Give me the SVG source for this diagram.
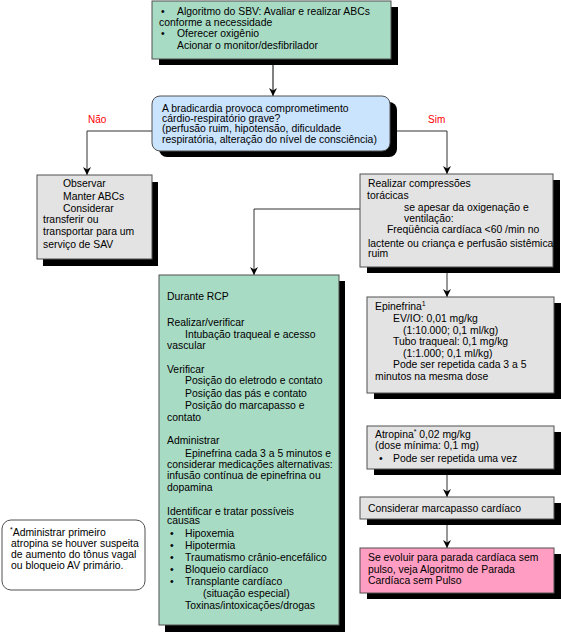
<svg xmlns="http://www.w3.org/2000/svg" width="561" height="633" viewBox="0 0 561 633">
<defs>
<style>
text{font-family:"Liberation Sans",Arial,sans-serif;font-size:10.4px;fill:#000}
.lbl{fill:#FF0000;font-size:10px}
.sup{font-size:7px}
.box{stroke:#505050;stroke-width:1}
.sh{fill:#000}
.green{fill:#A8DBC4}
.blue{fill:#CBE4FE}
.gray{fill:#E3E3E3}
.pink{fill:#FF9EC2}
.conn{fill:none;stroke:#333;stroke-width:1}
.conn2{fill:none;stroke:#808080;stroke-width:2}
</style>
<marker id="arr" viewBox="0 0 10 10" refX="10" refY="5" markerWidth="8" markerHeight="8" markerUnits="userSpaceOnUse" orient="auto">
<path d="M0,0 L10,5 L0,10 L3,5 z" fill="#000"/>
</marker>
</defs>
<rect width="561" height="633" fill="#fff"/>

<g id="connectors">
<line class="conn2" x1="273" y1="59" x2="273" y2="96" marker-end="url(#arr)"/>
<polyline class="conn" points="152,131 87,131 87,175" marker-end="url(#arr)"/>
<polyline class="conn" points="390,131 447,131 447,174" marker-end="url(#arr)"/>
<polyline class="conn" points="360,209 254,209 254,275" marker-end="url(#arr)"/>
<line class="conn" x1="447" y1="267" x2="447" y2="297" marker-end="url(#arr)"/>
<line class="conn" x1="447" y1="469" x2="447" y2="497" marker-end="url(#arr)"/>
<line class="conn" x1="447" y1="519" x2="447" y2="548" marker-end="url(#arr)"/>
<text class="lbl" x="88" y="122.7">Não</text>
<text class="lbl" x="428" y="122.7">Sim</text>
</g>

<g id="n-sbv">
<rect class="sh" x="159" y="7" width="239" height="58"/>
<rect class="box green" x="152" y="1" width="239" height="58"/>
<text x="161" y="14.5">•</text>
<text x="177" y="14.5">Algoritmo do SBV: Avaliar e realizar ABCs</text>
<text x="159" y="26">conforme a necessidade</text>
<text x="161" y="37">•</text>
<text x="177" y="37">Oferecer oxigênio</text>
<text x="177" y="49">Acionar o monitor/desfibrilador</text>
</g>

<g id="n-question">
<rect class="sh" x="159" y="102" width="238" height="55" rx="8"/>
<rect class="box blue" x="152" y="96" width="238" height="55" rx="8"/>
<text x="162" y="111.5">A bradicardia provoca comprometimento</text>
<text x="162" y="122">cárdio-respiratório grave?</text>
<text x="162" y="132">(perfusão ruim, hipotensão, dificuldade</text>
<text x="162" y="143">respiratória, alteração do nível de consciência)</text>
</g>

<g id="n-observar">
<rect class="sh" x="43" y="182" width="115" height="84"/>
<rect class="box gray" x="37" y="175" width="115" height="84"/>
<text x="63" y="187.3">Observar</text>
<text x="63" y="200">Manter ABCs</text>
<text x="63" y="211.7">Considerar</text>
<text x="43" y="223.3">transferir ou</text>
<text x="43" y="235">transportar para um</text>
<text x="43" y="247.7">serviço de SAV</text>
</g>

<g id="n-compressoes">
<rect class="sh" x="367" y="180" width="193" height="93"/>
<rect class="box gray" x="360" y="174" width="193" height="93"/>
<text x="368" y="186.7">Realizar compressões</text>
<text x="367" y="199">torácicas</text>
<text x="404" y="211">se apesar da oxigenação e</text>
<text x="404" y="221.7">ventilação:</text>
<text x="387" y="232.7">Freqüência cardíaca &lt;60 /min no</text>
<text x="368" y="246.7">lactente ou criança e perfusão sistêmica</text>
<text x="368" y="257.3">ruim</text>
</g>

<g id="n-rcp">
<rect class="sh" x="165" y="281" width="180" height="351"/>
<rect class="box green" x="159" y="275" width="180" height="350"/>
<text x="167" y="300">Durante RCP</text>
<text x="167" y="326">Realizar/verificar</text>
<text x="185" y="337.7">Intubação traqueal e acesso</text>
<text x="167" y="349.3">vascular</text>
<text x="167" y="372.7">Verificar</text>
<text x="185" y="384.3">Posição do eletrodo e contato</text>
<text x="185" y="396.7">Posição das pás e contato</text>
<text x="185" y="408.7">Posição do marcapasso e</text>
<text x="167" y="420.7">contato</text>
<text x="167" y="444.2">Administrar</text>
<text x="185" y="457.3">Epinefrina cada 3 a 5 minutos e</text>
<text x="167" y="467.7">considerar medicações alternativas:</text>
<text x="167" y="479.3">infusão contínua de epinefrina ou</text>
<text x="167" y="490.7">dopamina</text>
<text x="167" y="514.5">Identificar e tratar possíveis</text>
<text x="167" y="524">causas</text>
<text x="170" y="536.7">•</text>
<text x="185" y="536.7">Hipoxemia</text>
<text x="170" y="549.3">•</text>
<text x="185" y="549.3">Hipotermia</text>
<text x="170" y="561">•</text>
<text x="185" y="561">Traumatismo crânio-encefálico</text>
<text x="170" y="573.3">•</text>
<text x="185" y="573.3">Bloqueio cardíaco</text>
<text x="170" y="585.3">•</text>
<text x="185" y="585.3">Transplante cardíaco</text>
<text x="203" y="596.7">(situação especial)</text>
<text x="185" y="608.7">Toxinas/intoxicações/drogas</text>
</g>

<g id="n-epinefrina">
<rect class="sh" x="374" y="303" width="187" height="96"/>
<rect class="box gray" x="367" y="297" width="187" height="96"/>
<text x="375" y="310">Epinefrina<tspan class="sup" dy="-4">1</tspan></text>
<text x="393" y="322.3">EV/IO: 0,01 mg/kg</text>
<text x="403" y="334">(1:10.000; 0,1 ml/kg)</text>
<text x="393" y="345">Tubo traqueal: 0,1 mg/kg</text>
<text x="403" y="356.7">(1:1.000; 0,1 ml/kg)</text>
<text x="393" y="368.3">Pode ser repetida cada 3 a 5</text>
<text x="375" y="380">minutos na mesma dose</text>
</g>

<g id="n-atropina">
<rect class="sh" x="374" y="432" width="187" height="43"/>
<rect class="box gray" x="367" y="426" width="187" height="43"/>
<text x="375" y="438.3">Atropina<tspan class="sup" dy="-4">*</tspan><tspan dy="4"> 0,02 mg/kg</tspan></text>
<text x="375" y="449.3">(dose mínima: 0,1 mg)</text>
<text x="379" y="461.7">•</text>
<text x="393" y="461.7">Pode ser repetida uma vez</text>
</g>

<g id="n-marcapasso">
<rect class="sh" x="367" y="503" width="194" height="22"/>
<rect class="box gray" x="360" y="497" width="194" height="22"/>
<text x="368" y="511.7">Considerar marcapasso cardíaco</text>
</g>

<g id="n-parada">
<rect class="sh" x="367" y="554" width="194" height="45"/>
<rect class="box pink" x="360" y="548" width="194" height="45"/>
<text x="368" y="561">Se evoluir para parada cardíaca sem</text>
<text x="368" y="573.3">pulso, veja Algoritmo de Parada</text>
<text x="368" y="584.3">Cardíaca sem Pulso</text>
</g>

<g id="n-nota">
<rect x="2" y="520" width="143" height="70" rx="9" fill="#fff" stroke="#505050" stroke-width="1"/>
<text x="10" y="535.7"><tspan class="sup" dy="-4">*</tspan><tspan dy="4">Administrar primeiro</tspan></text>
<text x="11" y="546.7">atropina se houver suspeita</text>
<text x="11" y="557.7">de aumento do tônus vagal</text>
<text x="11" y="569.3">ou bloqueio AV primário.</text>
</g>
</svg>
